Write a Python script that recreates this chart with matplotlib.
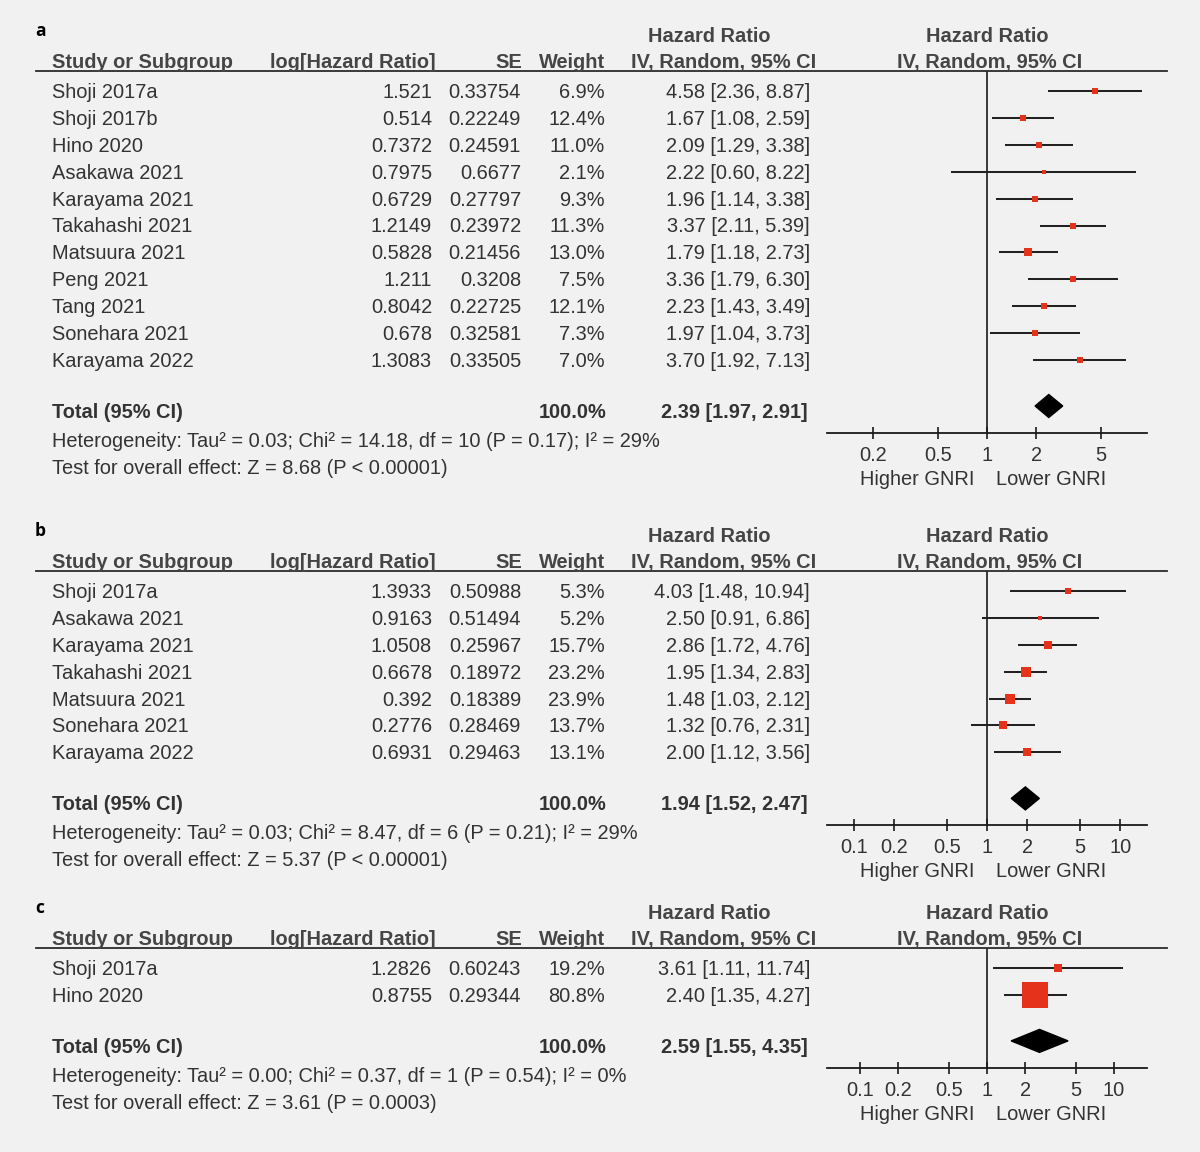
import numpy as np
import matplotlib
matplotlib.use('Agg')
import matplotlib.pyplot as plt
from matplotlib.lines import Line2D

plt.rcParams['font.family'] = ['Liberation Sans', 'DejaVu Sans']

# ---- data, panel a ----
names_a = ["Shoji 2017a", "Shoji 2017b", "Hino 2020", "Asakawa 2021", "Karayama 2021",
           "Takahashi 2021", "Matsuura 2021", "Peng 2021", "Tang 2021", "Sonehara 2021",
           "Karayama 2022"]
loghr_a = ["1.521", "0.514", "0.7372", "0.7975", "0.6729", "1.2149", "0.5828", "1.211",
           "0.8042", "0.678", "1.3083"]
se_a = ["0.33754", "0.22249", "0.24591", "0.6677", "0.27797", "0.23972", "0.21456",
        "0.3208", "0.22725", "0.32581", "0.33505"]
weight_a = [6.9, 12.4, 11.0, 2.1, 9.3, 11.3, 13.0, 7.5, 12.1, 7.3, 7.0]
hr_a = [4.58, 1.67, 2.09, 2.22, 1.96, 3.37, 1.79, 3.36, 2.23, 1.97, 3.70]
lo_a = [2.36, 1.08, 1.29, 0.60, 1.14, 2.11, 1.18, 1.79, 1.43, 1.04, 1.92]
hi_a = [8.87, 2.59, 3.38, 8.22, 3.38, 5.39, 2.73, 6.30, 3.49, 3.73, 7.13]
total_a = [2.39, 1.97, 2.91]
het_a = "Heterogeneity: Tau² = 0.03; Chi² = 14.18, df = 10 (P = 0.17); I² = 29%"
test_a = "Test for overall effect: Z = 8.68 (P < 0.00001)"
ticks_a = [0.2, 0.5, 1, 2, 5]

# ---- data, panel b ----
names_b = ["Shoji 2017a", "Asakawa 2021", "Karayama 2021", "Takahashi 2021",
           "Matsuura 2021", "Sonehara 2021", "Karayama 2022"]
loghr_b = ["1.3933", "0.9163", "1.0508", "0.6678", "0.392", "0.2776", "0.6931"]
se_b = ["0.50988", "0.51494", "0.25967", "0.18972", "0.18389", "0.28469", "0.29463"]
weight_b = [5.3, 5.2, 15.7, 23.2, 23.9, 13.7, 13.1]
hr_b = [4.03, 2.50, 2.86, 1.95, 1.48, 1.32, 2.00]
lo_b = [1.48, 0.91, 1.72, 1.34, 1.03, 0.76, 1.12]
hi_b = [10.94, 6.86, 4.76, 2.83, 2.12, 2.31, 3.56]
total_b = [1.94, 1.52, 2.47]
het_b = "Heterogeneity: Tau² = 0.03; Chi² = 8.47, df = 6 (P = 0.21); I² = 29%"
test_b = "Test for overall effect: Z = 5.37 (P < 0.00001)"
ticks_b = [0.1, 0.2, 0.5, 1, 2, 5, 10]

# ---- data, panel c ----
names_c = ["Shoji 2017a", "Hino 2020"]
loghr_c = ["1.2826", "0.8755"]
se_c = ["0.60243", "0.29344"]
weight_c = [19.2, 80.8]
hr_c = [3.61, 2.40]
lo_c = [1.11, 1.35]
hi_c = [11.74, 4.27]
total_c = [2.59, 1.55, 4.35]
het_c = "Heterogeneity: Tau² = 0.00; Chi² = 0.37, df = 1 (P = 0.54); I² = 0%"
test_c = "Test for overall effect: Z = 3.61 (P = 0.0003)"
ticks_c = [0.1, 0.2, 0.5, 1, 2, 5, 10]

panels = [
    ("a", names_a, loghr_a, se_a, weight_a, hr_a, lo_a, hi_a, total_a, het_a, test_a, ticks_a),
    ("b", names_b, loghr_b, se_b, weight_b, hr_b, lo_b, hi_b, total_b, het_b, test_b, ticks_b),
    ("c", names_c, loghr_c, se_c, weight_c, hr_c, lo_c, hi_c, total_c, het_c, test_c, ticks_c),
]

# layout (pixels)
W, H = 1200, 1152
line_ys = [71, 571, 948]       # header rule of each panel
decades = [0.98, 1.2, 1.26]    # half width of the log axis
STEP = 26.9
TXT = '#333333'
HEAD = '#454545'
RED = '#e4321b'
FS = 14.4

fig = plt.figure(figsize=(12, 11.52), dpi=100, facecolor='#f1f1f1')


def fx(x):
    return x / W


def fy(y):
    return 1 - y / H


def put(x, y, s, ha='left', bold=False, color=TXT, size=FS):
    # y is the visual centre of the capitals
    fig.text(fx(x), fy(y + 7), s, ha=ha, va='baseline', fontsize=size,
             fontweight='bold' if bold else 'normal', color=color)


for k, (lab, names, loghr, se, wt, hr, lo, hi, tot, het, test, ticks) in enumerate(panels):
    ly = line_ys[k]
    row0 = ly + 20
    rows = [row0 + i * STEP for i in range(len(names))]
    ty = rows[-1] + 51
    ay = ty + 22

    # panel letter
    fig.text(fx(35), fy(ly - 41 + 6), lab, fontsize=12.5, fontweight='bold',
             color='black', family=['Open Sans', 'DejaVu Sans'], va='baseline')

    # headers
    put(709, ly - 36, "Hazard Ratio", ha='center', bold=True, color=HEAD)
    put(987, ly - 36, "Hazard Ratio", ha='center', bold=True, color=HEAD)
    hy = ly - 10
    put(52, hy, "Study or Subgroup", bold=True, color=HEAD)
    put(270, hy, "log[Hazard Ratio]", bold=True, color=HEAD)
    put(522, hy, "SE", ha='right', bold=True, color=HEAD)
    put(605, hy, "Weight", ha='right', bold=True, color=HEAD)
    put(724, hy, "IV, Random, 95% CI", ha='center', bold=True, color=HEAD)
    put(990, hy, "IV, Random, 95% CI", ha='center', bold=True, color=HEAD)
    fig.add_artist(Line2D([fx(36), fx(1167)], [fy(ly), fy(ly)], color='#2a2a2a', lw=1.3))

    # study rows
    for i, y in enumerate(rows):
        put(52, y, names[i])
        put(432, y, loghr[i], ha='right')
        put(521, y, se[i], ha='right')
        put(605, y, f"{wt[i]:.1f}%", ha='right')
        put(810, y, f"{hr[i]:.2f} [{lo[i]:.2f}, {hi[i]:.2f}]", ha='right')

    put(52, ty, "Total (95% CI)", bold=True)
    put(606, ty, "100.0%", ha='right', bold=True)
    put(808, ty, f"{tot[0]:.2f} [{tot[1]:.2f}, {tot[2]:.2f}]", ha='right', bold=True)
    put(52, ty + 29, het)
    put(52, ty + 56, test)

    # forest plot
    ax = fig.add_axes([fx(827), fy(ay), (1147 - 827) / W, (ay - ly) / H])
    ax.set_xscale('log')
    d = decades[k]
    ax.set_xlim(10 ** -d, 10 ** d)
    ax.set_ylim(ay, ly)
    ax.patch.set_alpha(0)
    for s in ['top', 'left', 'right']:
        ax.spines[s].set_visible(False)
    ax.spines['bottom'].set_linewidth(1.3)
    ax.spines['bottom'].set_color('#1a1a1a')
    ax.axvline(1, color='#1a1a1a', lw=1.2, zorder=1)

    ax.hlines(rows, lo, hi, color='#222222', lw=1.45, zorder=2)
    for i, y in enumerate(rows):
        side = 3.6 + 0.265 * wt[i]
        ax.plot(hr[i], y, marker='s', ms=side * 0.72, color=RED, mec=RED, mew=0,
                ls='none', zorder=3, clip_on=False)

    dy = ty - 5
    ax.fill([tot[1], tot[0], tot[2], tot[0]], [dy, dy - 11.5, dy, dy + 11.5],
            color='black', zorder=3, clip_on=False)

    ax.set_xticks(ticks)
    ax.set_xticklabels([f"{t:g}" for t in ticks])
    ax.xaxis.set_minor_locator(matplotlib.ticker.NullLocator())
    ax.tick_params(axis='x', direction='inout', length=8.6, width=1.2, pad=4.8,
                   labelsize=FS, labelcolor=TXT, color='#1a1a1a')
    ax.set_yticks([])

    put(975, ay + 45, "Higher GNRI", ha='right')
    put(996, ay + 45, "Lower GNRI", ha='left')

fig.savefig('out.png', dpi=100, facecolor=fig.get_facecolor())
